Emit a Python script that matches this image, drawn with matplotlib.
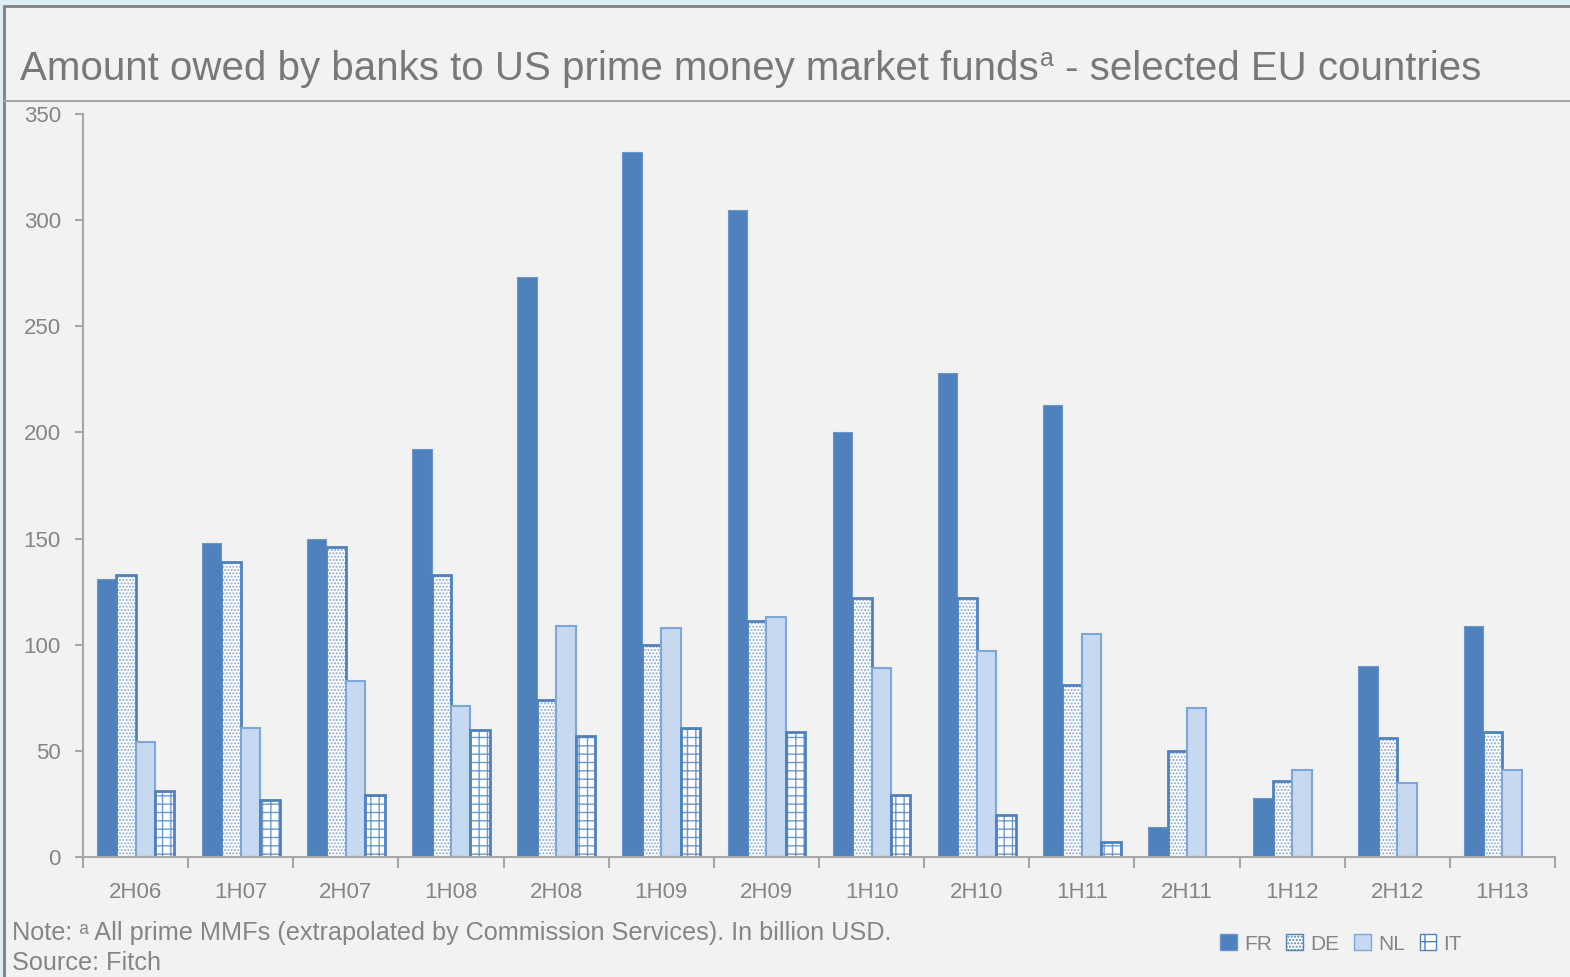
import numpy as np
import matplotlib
matplotlib.use("Agg")
import matplotlib.pyplot as plt
from matplotlib.patches import Rectangle, Patch
from matplotlib.lines import Line2D

# Half-year periods and outstanding amounts (billion USD)
periods = ["2H06", "1H07", "2H07", "1H08", "2H08", "1H09", "2H09",
           "1H10", "2H10", "1H11", "2H11", "1H12", "2H12", "1H13"]
fr = [131, 148, 150, 192, 273, 332, 305, 200, 228, 213, 14, 28, 90, 109]
de = [133, 139, 146, 133, 74, 100, 111, 122, 122, 81, 50, 36, 56, 59]
nl = [54, 61, 83, 71, 109, 108, 113, 89, 97, 105, 70, 41, 35, 41]
it = [31, 27, 29, 60, 57, 61, 59, 29, 20, 7, 0, 0, 0, 0]
series_names = ["FR", "DE", "NL", "IT"]

BLUE = "#4f81bd"
HATCH = "#86a9d8"
LIGHT = "#c6d9f1"
GREY_TXT = "#858585"
GREY_AX = "#a6a6a6"
PANEL = "#f2f2f2"

plt.rcParams["font.family"] = ["Liberation Sans", "DejaVu Sans"]
plt.rcParams["hatch.linewidth"] = 1.0

W, H = 1570, 977
fig = plt.figure(figsize=(W / 100, H / 100), dpi=100, facecolor="#dcedf1")

# chart panel with grey frame, kept behind the axes
fig.patches.append(Rectangle((4 / W, -0.01), 1.0, (H - 6) / H + 0.01,
                             transform=fig.transFigure, facecolor=PANEL,
                             edgecolor="#808080", linewidth=2, zorder=-10))
fig.add_artist(Line2D([5 / W, 1.0], [(H - 101) / H] * 2, transform=fig.transFigure,
                      color=GREY_AX, linewidth=1.5, zorder=-5))

ax = fig.add_axes([83 / W, (H - 857) / H, 1472 / W, 743 / H])
ax.set_zorder(1)
ax.set_facecolor(PANEL)

x = np.arange(len(periods))
bw = 0.185
pos = [x + (i - 1.5) * bw for i in range(4)]

ax.bar(pos[0], fr, width=bw, color=BLUE, edgecolor="#6b96cc", linewidth=0.8)
# hatched series: pattern in a lighter blue, outline drawn on top
ax.bar(pos[1], de, width=bw, color="white", edgecolor=HATCH, hatch=".....", linewidth=0)
ax.bar(pos[1], de, width=bw, fill=False, edgecolor=BLUE, linewidth=2)
ax.bar(pos[2], nl, width=bw, color=LIGHT, edgecolor="#7ea6d8", linewidth=1.5)
ax.bar(pos[3], it, width=bw, color="white", edgecolor="#6d98cf", hatch="++", linewidth=0)
ax.bar(pos[3], it, width=bw, fill=False, edgecolor=BLUE, linewidth=2)

ax.set_xlim(-0.5, len(periods) - 0.5)
ax.set_ylim(0, 350)
ax.set_yticks(np.arange(0, 351, 50))
ax.set_xticks(x)
ax.set_xticklabels(periods)
ax.set_xticks(np.arange(-0.5, len(periods)), minor=True)

for side in ["top", "right"]:
    ax.spines[side].set_visible(False)
for side in ["left", "bottom"]:
    ax.spines[side].set_color(GREY_AX)
    ax.spines[side].set_linewidth(1.5)

ax.tick_params(axis="y", length=6, width=1.5, color=GREY_AX, labelcolor=GREY_TXT,
               labelsize=16, pad=10)
ax.tick_params(axis="x", which="major", length=0, labelcolor=GREY_TXT,
               labelsize=16, pad=18)
ax.tick_params(axis="x", which="minor", length=8, width=1.5, color=GREY_AX)

# title with superscript marker
fig.canvas.draw()
renderer = fig.canvas.get_renderer()
ty = (H - 80) / H
t1 = fig.text(20 / W, ty, "Amount owed by banks to US prime money market funds",
              fontsize=29, color="#787878", va="baseline")
bb = t1.get_window_extent(renderer)
t2 = fig.text(bb.x1 / W + 1 / W, ty + 14 / H, "a", fontsize=18, color="#787878",
              va="baseline")
bb2 = t2.get_window_extent(renderer)
fig.text(bb2.x1 / W, ty, " - selected EU countries", fontsize=29, color="#787878",
         va="baseline")

fig.text(12 / W, (H - 940) / H,
         "Note: \u1d43 All prime MMFs (extrapolated by Commission Services). In billion USD.",
         fontsize=18.2, color=GREY_TXT, va="baseline")
fig.text(12 / W, (H - 970) / H, "Source: Fitch", fontsize=18.2, color=GREY_TXT,
         va="baseline")

handles = [Patch(facecolor=BLUE, edgecolor="#6b96cc"),
           Patch(facecolor="white", edgecolor=BLUE, hatch="....."),
           Patch(facecolor=LIGHT, edgecolor="#7ea6d8"),
           Patch(facecolor="white", edgecolor=BLUE, hatch="+")]
fig.legend(handles, series_names, loc="center", bbox_to_anchor=(1341 / W, (H - 944) / H),
           ncol=4, frameon=False, fontsize=15, labelcolor=GREY_TXT,
           handlelength=0.8, handleheight=0.8, handletextpad=0.35, columnspacing=0.7)

fig.savefig("out.png", dpi=100, facecolor=fig.get_facecolor())
